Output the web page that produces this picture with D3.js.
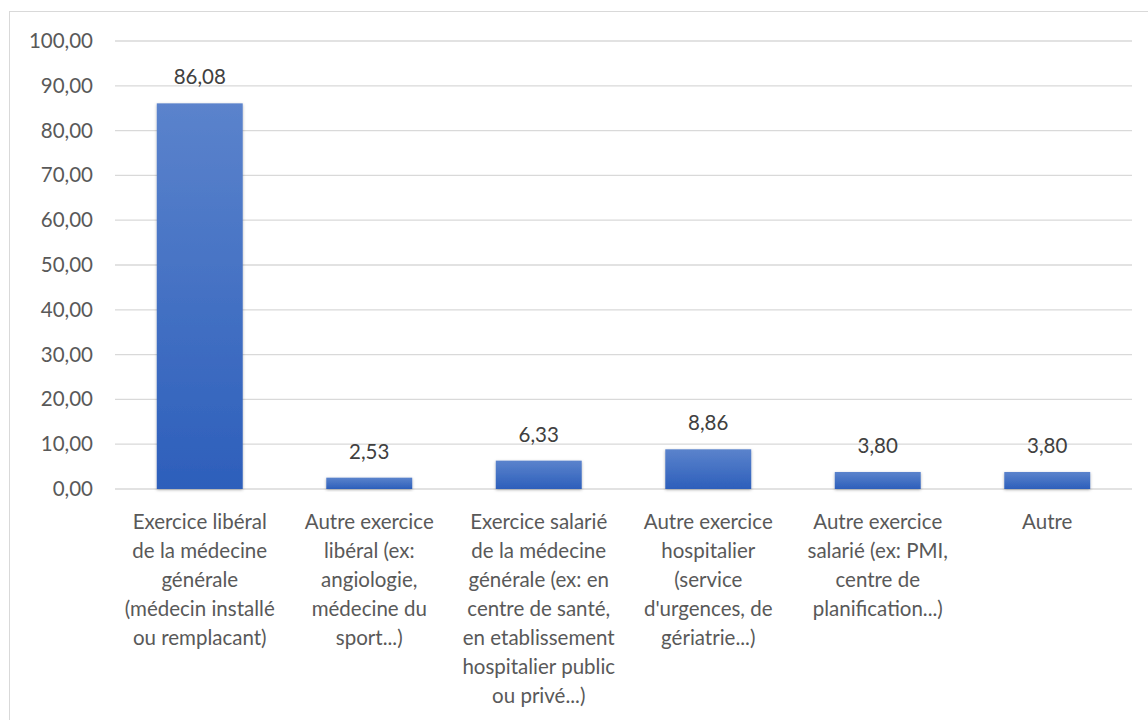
<!DOCTYPE html>
<html>
<head>
<meta charset="utf-8">
<script src="https://cdn.jsdelivr.net/npm/d3@7"></script>
<style>
  body { margin: 0; background: #fff; }
  svg { display: block; font-family: Lato, "Open Sans", sans-serif; }
</style>
</head>
<body>
<svg id="chart"></svg>
<script>
// données
let categories = [
  ["Exercice libéral", "de la médecine", "générale", "(médecin installé", "ou remplacant)"],
  ["Autre exercice", "libéral (ex:", "angiologie,", "médecine du", "sport...)"],
  ["Exercice salarié", "de la médecine", "générale (ex: en", "centre de santé,", "en etablissement", "hospitalier public", "ou privé...)"],
  ["Autre exercice", "hospitalier", "(service", "d'urgences, de", "gériatrie...)"],
  ["Autre exercice", "salarié (ex: PMI,", "centre de", "planification...)"],
  ["Autre"]
];
let values = [86.08, 2.53, 6.33, 8.86, 3.80, 3.80];
let yTicks = [0, 10, 20, 30, 40, 50, 60, 70, 80, 90, 100];

let width = 1148, height = 720;
let svg = d3.select("#chart").attr("width", width).attr("height", height);

let fmt = v => v.toFixed(2).replace(".", ",");

// cadre du graphique
svg.append("rect")
  .attr("x", 9.5).attr("y", 11.5)
  .attr("width", width + 10).attr("height", height + 10)
  .attr("fill", "#fff")
  .attr("stroke", "#d9d9d9")
  .attr("stroke-width", 1);

let defs = svg.append("defs");
let grad = defs.append("linearGradient")
  .attr("id", "barGrad")
  .attr("x1", 0).attr("y1", 0).attr("x2", 0).attr("y2", 1);
grad.append("stop").attr("offset", "0%").attr("stop-color", "#5b83cc");
grad.append("stop").attr("offset", "100%").attr("stop-color", "#2d5fbb");

let shadow = defs.append("filter").attr("id", "shadow")
  .attr("x", "-20%").attr("y", "-20%").attr("width", "140%").attr("height", "140%");
shadow.append("feDropShadow")
  .attr("dx", 0).attr("dy", 1).attr("stdDeviation", 1.5)
  .attr("flood-color", "#000").attr("flood-opacity", 0.3);

let x = d3.scaleBand()
  .domain(d3.range(categories.length))
  .range([115, 1132])
  .paddingInner(0.493)
  .paddingOuter(0.2465);

let y = d3.scaleLinear().domain([0, 100]).range([489, 41]);

// grille
svg.append("g")
  .selectAll("line")
  .data(yTicks)
  .join("line")
  .attr("x1", 115).attr("x2", 1132)
  .attr("y1", d => y(d)).attr("y2", d => y(d))
  .attr("stroke", "#d9d9d9")
  .attr("stroke-width", 1.3);

// axe Y
let yAxis = svg.append("g")
  .attr("transform", "translate(93,0)")
  .call(d3.axisLeft(y).tickValues(yTicks).tickFormat(fmt).tickSize(0).tickPadding(0));
yAxis.select(".domain").remove();
yAxis.selectAll("text")
  .attr("fill", "#595959")
  .style("font-size", "20.5px")
  .style("font-family", "Lato, 'Open Sans', sans-serif");

// barres
svg.append("g")
  .selectAll("rect")
  .data(values)
  .join("rect")
  .attr("x", (d, i) => x(i))
  .attr("y", d => y(d))
  .attr("width", x.bandwidth())
  .attr("height", d => y(0) - y(d))
  .attr("fill", "url(#barGrad)")
  .attr("filter", "url(#shadow)");

// étiquettes de valeur
svg.append("g")
  .selectAll("text")
  .data(values)
  .join("text")
  .attr("x", (d, i) => x(i) + x.bandwidth() / 2)
  .attr("y", d => y(d) - 19)
  .attr("text-anchor", "middle")
  .attr("fill", "#404040")
  .style("font-size", "20.5px")
  .text(fmt);

// libellés des catégories
let labels = svg.append("g")
  .selectAll("text")
  .data(categories)
  .join("text")
  .attr("x", (d, i) => x(i) + x.bandwidth() / 2)
  .attr("y", 529)
  .attr("text-anchor", "middle")
  .attr("fill", "#595959")
  .style("font-size", "20.5px");

labels.selectAll("tspan")
  .data(d => d)
  .join("tspan")
  .attr("x", function() { return d3.select(this.parentNode).attr("x"); })
  .attr("dy", (d, i) => i === 0 ? 0 : 29)
  .text(d => d);
</script>
</body>
</html>
